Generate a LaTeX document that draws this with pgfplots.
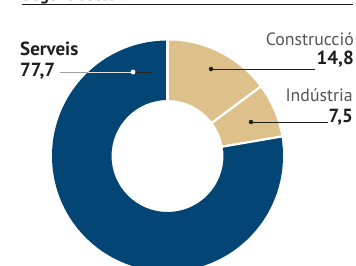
\documentclass[border=0pt]{standalone}
\usepackage{pgfplots}
\usepackage{pgfplotstable}
\pgfplotsset{compat=1.18}
\usepackage{fontspec}
\setmainfont{PT Sans}
\definecolor{serveis}{HTML}{034574}
\definecolor{tanc}{HTML}{DDC08A}
\definecolor{txtgray}{HTML}{555555}
\definecolor{txtdark}{HTML}{1E1E1E}

\pgfplotstableread[col sep=comma]{
sector,value
Construccio,14.8
Industria,7.5
Serveis,77.7
}\datatable

\newcommand\ring[3]{%
  \fill[#1] (axis cs:167.5,109) ++(#2:115.5pt)
    arc[start angle=#2,end angle=#3,radius=115.5pt]
    -- ++({#3+180}:59.5pt)
    arc[start angle=#3,end angle=#2,radius=56pt] -- cycle;}

\begin{document}
\begin{tikzpicture}
\pgfplotstablegetelem{0}{value}\of\datatable \let\vA\pgfplotsretval
\pgfplotstablegetelem{1}{value}\of\datatable \let\vB\pgfplotsretval
\pgfplotstablegetelem{2}{value}\of\datatable \let\vC\pgfplotsretval
\pgfmathsetmacro\aA{90}
\pgfmathsetmacro\aB{90-3.6*\vA}
\pgfmathsetmacro\aC{\aB-3.6*\vB}
\pgfmathsetmacro\aD{\aC-3.6*\vC}
\begin{axis}[at={(0,0)}, anchor=south west, width=356pt, height=265pt,
  scale only axis, xmin=0, xmax=356, ymin=0, ymax=265, hide axis, clip=true]
  \ring{tanc}{\aA}{\aB}
  \ring{tanc}{\aB}{\aC}
  \ring{serveis}{\aC}{\aD}
  \draw[white, line width=2.3pt] (axis cs:167.5,109) ++(\aA:53pt) -- ++(\aA:66pt);
  \draw[white, line width=2.3pt] (axis cs:167.5,109) ++(\aB:53pt) -- ++(\aB:66pt);
  \draw[white, line width=2.3pt] (axis cs:167.5,109) ++(\aC:53pt) -- ++(\aC:66pt);
  % top rule
  \addplot[txtdark, line width=0.9pt] coordinates {(22,260.5) (353,260.5)};
  \node[anchor=base west, inner sep=0, font=\fontsize{17}{20}\selectfont\bfseries, text=txtdark] at (axis cs:22,264) {Segons sector:};
  % leaders
  \addplot[txtdark, line width=0.8pt] coordinates {(211,196) (315,196)};
  \addplot[only marks, mark=*, mark size=2pt, txtdark] coordinates {(211,196)};
  \addplot[txtdark, line width=0.8pt] coordinates {(251,143) (328,143)};
  \addplot[only marks, mark=*, mark size=2pt, txtdark] coordinates {(251,143)};
  \addplot[gray!75, line width=0.8pt] coordinates {(60,193) (88,193)};
  \addplot[gray!25, line width=0.8pt] coordinates {(88,193) (133,193)};
  \addplot[black!85, line width=0.8pt] coordinates {(133,193) (152,193)};
  \addplot[only marks, mark=*, mark size=2.2pt, white] coordinates {(133,193)};
  % labels
  \node[anchor=base east, inner sep=0, font=\fontsize{17.8}{20}\selectfont, text=txtgray] at (axis cs:354,219) {Construcció};
  \node[anchor=base east, inner sep=0, font=\fontsize{19}{22}\selectfont\bfseries, text=txtdark] at (axis cs:354,200) {14,8};
  \node[anchor=base east, inner sep=0, font=\fontsize{17.8}{20}\selectfont, text=txtgray] at (axis cs:353,163) {Indústria};
  \node[anchor=base east, inner sep=0, font=\fontsize{19}{22}\selectfont\bfseries, text=txtdark] at (axis cs:353,142) {7,5};
  \node[anchor=base west, inner sep=0, font=\fontsize{19}{22}\selectfont\bfseries, text=txtdark] at (axis cs:20,209) {Serveis};
  \node[anchor=base west, inner sep=0, font=\fontsize{19}{22}\selectfont\bfseries, text=txtdark] at (axis cs:20,188) {77,7};
\end{axis}
\pgfresetboundingbox
\path (0,0) rectangle (356pt,265pt);
\end{tikzpicture}
\end{document}
